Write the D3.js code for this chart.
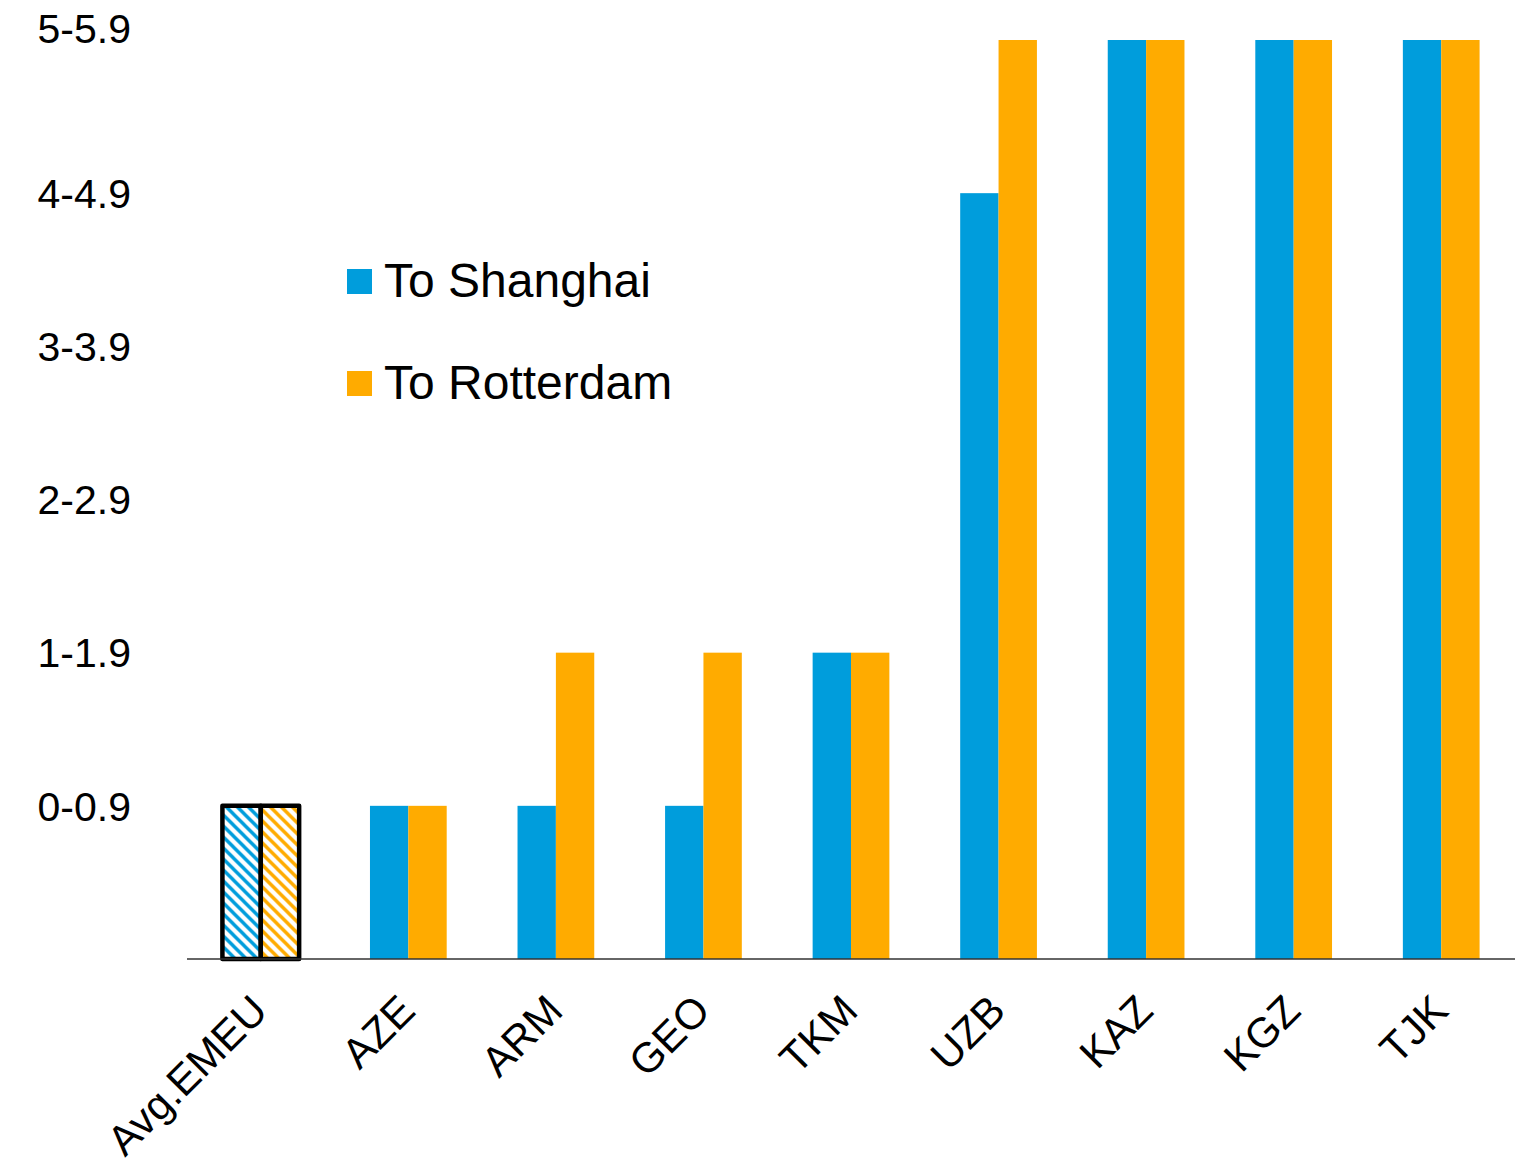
<!DOCTYPE html>
<html>
<head>
<meta charset="utf-8">
<script src="https://cdn.jsdelivr.net/npm/d3@7"></script>
<style>
  body { margin: 0; background: #fff; }
  text { font-family: Arial, "Liberation Sans", sans-serif; fill: #000; }
</style>
</head>
<body>
<div id="chart"></div>
<script>
// categories and band levels (level n = value band n-1 .. n-1.9)
const categories = ["Avg.EMEU", "AZE", "ARM", "GEO", "TKM", "UZB", "KAZ", "KGZ", "TJK"];
const toShanghai = [1, 1, 1, 1, 2, 5, 6, 6, 6];
const toRotterdam = [1, 1, 2, 2, 2, 6, 6, 6, 6];
const levelLabels = ["0-0.9", "1-1.9", "2-2.9", "3-3.9", "4-4.9", "5-5.9"];
const seriesNames = ["To Shanghai", "To Rotterdam"];

const colors = ["#009ddc", "#ffab00"];
const width = 1524, height = 1158;

const svg = d3.select("#chart").append("svg")
    .attr("width", width)
    .attr("height", height);

// hatch patterns for the average group
const defs = svg.append("defs");
colors.forEach((c, i) => {
    const p = defs.append("pattern")
        .attr("id", "hatch" + i)
        .attr("patternUnits", "userSpaceOnUse")
        .attr("width", 11)
        .attr("height", 11);
    p.append("rect").attr("width", 11).attr("height", 11).attr("fill", "#fff");
    p.append("path")
        .attr("d", "M-3,-3 L14,14 M-3,8 L3,14 M8,-3 L14,3")
        .attr("stroke", c)
        .attr("stroke-width", 3.4);
});

// scales
const x0 = d3.scaleBand()
    .domain(categories)
    .range([187, 1515])
    .paddingInner(0.48)
    .paddingOuter(0.24);

const x1 = d3.scaleBand()
    .domain(seriesNames)
    .range([0, x0.bandwidth()]);

const y = d3.scaleLinear()
    .domain([0, 6])
    .range([959, 40]);

// bars
const groups = svg.append("g").selectAll("g")
    .data(categories)
    .join("g")
    .attr("transform", d => "translate(" + x0(d) + ",0)");

groups.selectAll("rect")
    .data((d, i) => [
        { cat: d, name: seriesNames[0], v: toShanghai[i], s: 0, idx: i },
        { cat: d, name: seriesNames[1], v: toRotterdam[i], s: 1, idx: i }
    ])
    .join("rect")
    .attr("x", d => x1(d.name))
    .attr("width", x1.bandwidth())
    .attr("y", d => y(d.v))
    .attr("height", d => y(0) - y(d.v))
    .attr("fill", d => d.idx === 0 ? "url(#hatch" + d.s + ")" : colors[d.s])
    .attr("stroke", d => d.idx === 0 ? "#000" : "none")
    .attr("stroke-width", 4.5)
    .attr("stroke-linejoin", "round");

// x axis line
svg.append("line")
    .attr("x1", 187)
    .attr("x2", 1515)
    .attr("y1", y(0))
    .attr("y2", y(0))
    .attr("stroke", "#333")
    .attr("stroke-width", 1.5);

// x labels, rotated
svg.append("g").selectAll("text")
    .data(categories)
    .join("text")
    .attr("text-anchor", "end")
    .attr("font-size", 42)
    .attr("transform", d => "translate(" + (x0(d) + x0.bandwidth() / 2 + 9) + ",1013) rotate(-45)")
    .text(d => d);

// y labels (top one sits a bit higher, as in the original)
svg.append("g").selectAll("text")
    .data(levelLabels)
    .join("text")
    .attr("text-anchor", "end")
    .attr("font-size", 41)
    .attr("x", 131)
    .attr("y", (d, i) => y(i + 1) - (i === levelLabels.length - 1 ? 12 : 0))
    .attr("dy", "0.36em")
    .text(d => d);

// legend
const legend = svg.append("g").selectAll("g")
    .data(seriesNames)
    .join("g")
    .attr("transform", (d, i) => "translate(347," + (269 + i * 102) + ")");

legend.append("rect")
    .attr("width", 25)
    .attr("height", 25)
    .attr("fill", (d, i) => colors[i]);

legend.append("text")
    .attr("x", 37)
    .attr("y", 28)
    .attr("font-size", 48)
    .text(d => d);
</script>
</body>
</html>
